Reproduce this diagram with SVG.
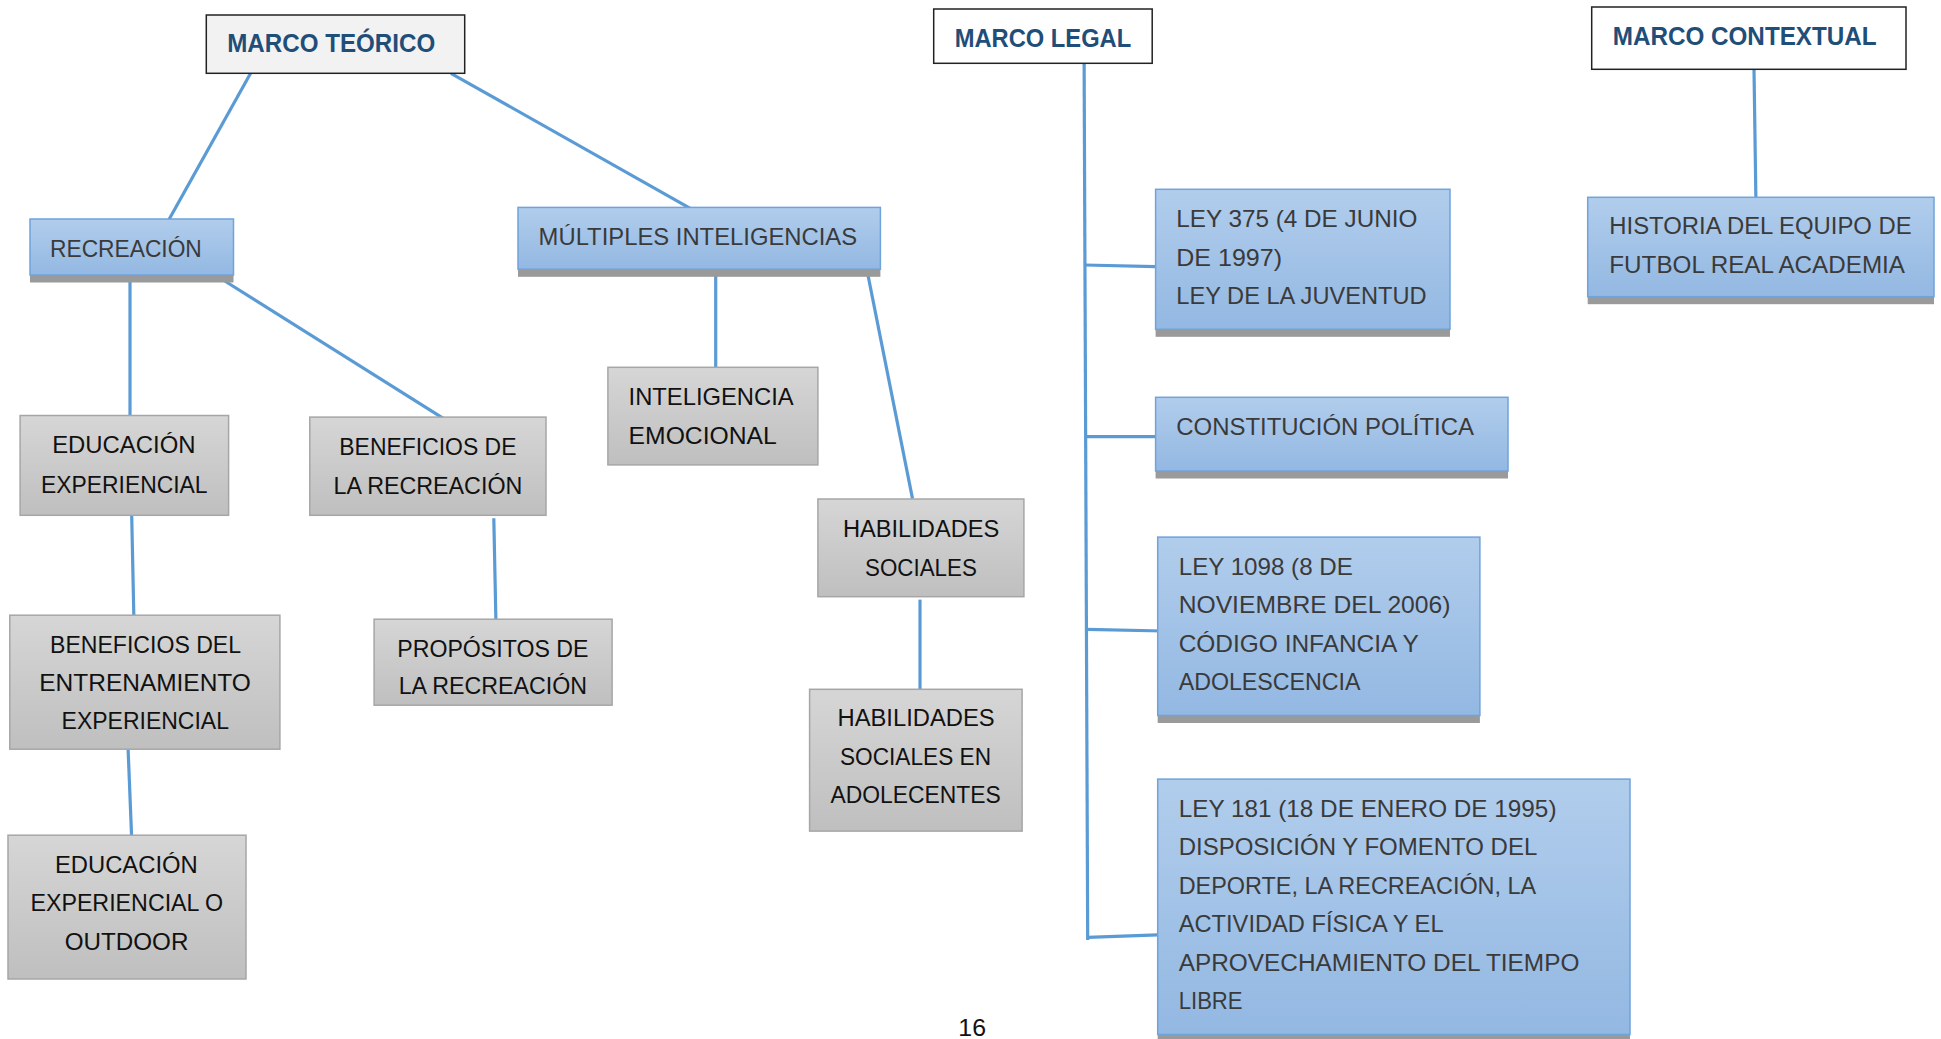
<svg xmlns="http://www.w3.org/2000/svg" width="1941" height="1039" viewBox="0 0 1941 1039">
<style>
.hdr{fill:#f2f2f2;stroke:#222;stroke-width:1.5}
.hdrw{fill:#ffffff;stroke:#222;stroke-width:1.5}
.blue{fill:url(#gb);stroke:#6fa3dc;stroke-width:1.5}
.shadow{fill:#9a9a9a}
.gray{fill:url(#gg);stroke:#a6a6a6;stroke-width:1.5}
.ht{font-family:"Liberation Sans",Arial,sans-serif;font-weight:bold;font-size:25px;fill:#1f4e79}
.bt{font-family:"Liberation Sans",Arial,sans-serif;font-size:24.5px;fill:#3a3a3a}
.gt{font-family:"Liberation Sans",Arial,sans-serif;font-size:24.5px;fill:#111}
.pg{font-family:"Liberation Sans",Arial,sans-serif;font-size:23px;fill:#111}
.conn line{stroke:#5b9bd5;stroke-width:3.2;stroke-linecap:butt}
</style>
<defs>
<linearGradient id="gb" x1="0" y1="0" x2="0" y2="1"><stop offset="0" stop-color="#b1cdec"/><stop offset="1" stop-color="#93b8e2"/></linearGradient>
<linearGradient id="gg" x1="0" y1="0" x2="0" y2="1"><stop offset="0" stop-color="#d6d6d6"/><stop offset="1" stop-color="#bfbfbf"/></linearGradient>
</defs>
<rect width="1941" height="1039" fill="#ffffff"/>

<g id="connectors" class="conn">
<line x1="251.3" y1="72" x2="168.3" y2="220.7"/>
<line x1="450.9" y1="73.3" x2="692" y2="209.3"/>
<line x1="130" y1="275" x2="130" y2="420.4"/>
<line x1="223.2" y1="280" x2="443.3" y2="418.3"/>
<line x1="131.7" y1="515.3" x2="133.9" y2="618.8"/>
<line x1="128.1" y1="749.2" x2="131.7" y2="838.9"/>
<line x1="493.8" y1="518.2" x2="496" y2="625"/>
<line x1="715.7" y1="273.4" x2="715.7" y2="376.5"/>
<line x1="867.9" y1="274.7" x2="912.5" y2="498.6"/>
<line x1="920" y1="599.6" x2="920" y2="692.6"/>
<line x1="1084.1" y1="58.3" x2="1087.7" y2="940"/>
<line x1="1084.6" y1="265" x2="1155.6" y2="266.7"/>
<line x1="1085.2" y1="436.7" x2="1157.2" y2="436.7"/>
<line x1="1086.3" y1="629.3" x2="1163.4" y2="631"/>
<line x1="1087.7" y1="937.3" x2="1157.7" y2="934.9"/>
<line x1="1754" y1="69" x2="1756" y2="206.7"/>
</g>

<g id="marco-teorico">
<rect class="hdr" x="206.3" y="15" width="258.4" height="58.3"/>
<text class="ht" x="227.2" y="52.3" textLength="208" lengthAdjust="spacingAndGlyphs">MARCO TEÓRICO</text>
</g>
<g id="marco-legal">
<rect class="hdrw" x="933.7" y="9" width="218.5" height="54.3"/>
<text class="ht" x="954.7" y="46.7" textLength="176.5" lengthAdjust="spacingAndGlyphs">MARCO LEGAL</text>
</g>
<g id="marco-contextual">
<rect class="hdrw" x="1591.7" y="7" width="314.3" height="62.3"/>
<text class="ht" x="1612.7" y="45" textLength="264" lengthAdjust="spacingAndGlyphs">MARCO CONTEXTUAL</text>
</g>

<g id="recreacion">
<rect class="shadow" x="30" y="226.5" width="203.5" height="56"/>
<rect class="blue" x="30" y="219" width="203.5" height="56"/>
<text class="bt" x="50" y="257.3" textLength="151.8" lengthAdjust="spacingAndGlyphs">RECREACIÓN</text>
</g>
<g id="multiples-inteligencias">
<rect class="shadow" x="518" y="215" width="362.4" height="61.8"/>
<rect class="blue" x="518" y="207.4" width="362.4" height="61.8"/>
<text class="bt" x="538.6" y="245.2" textLength="318.5" lengthAdjust="spacingAndGlyphs">MÚLTIPLES INTELIGENCIAS</text>
</g>

<g id="educacion-experiencial">
<rect class="gray" x="20.1" y="415.5" width="208.5" height="99.8"/>
<text class="gt" x="52.2" y="453" textLength="143.3" lengthAdjust="spacingAndGlyphs">EDUCACIÓN</text>
<text class="gt" x="41.1" y="492.5" textLength="166.5" lengthAdjust="spacingAndGlyphs">EXPERIENCIAL</text>
</g>
<g id="beneficios-recreacion">
<rect class="gray" x="309.8" y="417.1" width="236.2" height="98.2"/>
<text class="gt" x="339.3" y="455" textLength="177.2" lengthAdjust="spacingAndGlyphs">BENEFICIOS DE</text>
<text class="gt" x="333.5" y="493.7" textLength="188.8" lengthAdjust="spacingAndGlyphs">LA RECREACIÓN</text>
</g>
<g id="beneficios-entrenamiento">
<rect class="gray" x="9.8" y="615.2" width="270.1" height="134"/>
<text class="gt" x="50" y="652.6" textLength="191.1" lengthAdjust="spacingAndGlyphs">BENEFICIOS DEL</text>
<text class="gt" x="39.3" y="691.4" textLength="211.6" lengthAdjust="spacingAndGlyphs">ENTRENAMIENTO</text>
<text class="gt" x="61.6" y="729.3" textLength="167.4" lengthAdjust="spacingAndGlyphs">EXPERIENCIAL</text>
</g>
<g id="educacion-outdoor">
<rect class="gray" x="8" y="835.2" width="238" height="143.8"/>
<text class="gt" x="54.9" y="872.7" textLength="142.9" lengthAdjust="spacingAndGlyphs">EDUCACIÓN</text>
<text class="gt" x="30.4" y="911.4" textLength="192.8" lengthAdjust="spacingAndGlyphs">EXPERIENCIAL O</text>
<text class="gt" x="64.7" y="950.1" textLength="123.7" lengthAdjust="spacingAndGlyphs">OUTDOOR</text>
</g>
<g id="propositos-recreacion">
<rect class="gray" x="374.1" y="619.2" width="238" height="86"/>
<text class="gt" x="397.3" y="656.7" textLength="191.1" lengthAdjust="spacingAndGlyphs">PROPÓSITOS DE</text>
<text class="gt" x="398.7" y="694.2" textLength="188.3" lengthAdjust="spacingAndGlyphs">LA RECREACIÓN</text>
</g>
<g id="inteligencia-emocional">
<rect class="gray" x="607.9" y="367.3" width="210" height="97.6"/>
<text class="gt" x="628.6" y="405.2" textLength="165" lengthAdjust="spacingAndGlyphs">INTELIGENCIA</text>
<text class="gt" x="628.6" y="443.9" textLength="148.2" lengthAdjust="spacingAndGlyphs">EMOCIONAL</text>
</g>
<g id="habilidades-sociales">
<rect class="gray" x="817.9" y="499" width="206" height="97.7"/>
<text class="gt" x="842.9" y="536.9" textLength="156.4" lengthAdjust="spacingAndGlyphs">HABILIDADES</text>
<text class="gt" x="865" y="575.6" textLength="111.8" lengthAdjust="spacingAndGlyphs">SOCIALES</text>
</g>
<g id="habilidades-adolescentes">
<rect class="gray" x="809.6" y="689.3" width="212.5" height="141.8"/>
<text class="gt" x="837.5" y="726.3" textLength="157.1" lengthAdjust="spacingAndGlyphs">HABILIDADES</text>
<text class="gt" x="840" y="765" textLength="151" lengthAdjust="spacingAndGlyphs">SOCIALES EN</text>
<text class="gt" x="830.4" y="802.9" textLength="170.3" lengthAdjust="spacingAndGlyphs">ADOLECENTES</text>
</g>

<g id="ley-375">
<rect class="shadow" x="1155.6" y="196.8" width="294.4" height="140"/>
<rect class="blue" x="1155.6" y="189.3" width="294.4" height="140"/>
<text class="bt" x="1176.3" y="227.3" textLength="241.1" lengthAdjust="spacingAndGlyphs">LEY 375 (4 DE JUNIO</text>
<text class="bt" x="1176.3" y="265.7" textLength="105.7" lengthAdjust="spacingAndGlyphs">DE 1997)</text>
<text class="bt" x="1176.3" y="304" textLength="250.3" lengthAdjust="spacingAndGlyphs">LEY DE LA JUVENTUD</text>
</g>
<g id="constitucion">
<rect class="shadow" x="1155.6" y="404.8" width="352.4" height="73.7"/>
<rect class="blue" x="1155.6" y="397.3" width="352.4" height="73.7"/>
<text class="bt" x="1176.3" y="435" textLength="297.7" lengthAdjust="spacingAndGlyphs">CONSTITUCIÓN POLÍTICA</text>
</g>
<g id="ley-1098">
<rect class="shadow" x="1157.7" y="544.6" width="322.2" height="178.4"/>
<rect class="blue" x="1157.7" y="537.1" width="322.2" height="178.4"/>
<text class="bt" x="1178.7" y="574.9" textLength="174.2" lengthAdjust="spacingAndGlyphs">LEY 1098 (8 DE</text>
<text class="bt" x="1178.7" y="613.4" textLength="271.8" lengthAdjust="spacingAndGlyphs">NOVIEMBRE DEL 2006)</text>
<text class="bt" x="1178.7" y="651.9" textLength="240" lengthAdjust="spacingAndGlyphs">CÓDIGO INFANCIA Y</text>
<text class="bt" x="1178.7" y="690.1" textLength="181.8" lengthAdjust="spacingAndGlyphs">ADOLESCENCIA</text>
</g>
<g id="ley-181">
<rect class="shadow" x="1157.7" y="786.6" width="472.3" height="255.4"/>
<rect class="blue" x="1157.7" y="779.1" width="472.3" height="255.4"/>
<text class="bt" x="1178.7" y="817" textLength="377.8" lengthAdjust="spacingAndGlyphs">LEY 181 (18 DE ENERO DE 1995)</text>
<text class="bt" x="1178.7" y="855.1" textLength="358.6" lengthAdjust="spacingAndGlyphs">DISPOSICIÓN Y FOMENTO DEL</text>
<text class="bt" x="1178.7" y="893.6" textLength="357.5" lengthAdjust="spacingAndGlyphs">DEPORTE, LA RECREACIÓN, LA</text>
<text class="bt" x="1178.7" y="932.1" textLength="264.9" lengthAdjust="spacingAndGlyphs">ACTIVIDAD FÍSICA Y EL</text>
<text class="bt" x="1178.7" y="971" textLength="400.7" lengthAdjust="spacingAndGlyphs">APROVECHAMIENTO DEL TIEMPO</text>
<text class="bt" x="1178.7" y="1008.8" textLength="63.9" lengthAdjust="spacingAndGlyphs">LIBRE</text>
</g>
<g id="historia">
<rect class="shadow" x="1587.7" y="204.8" width="346.3" height="99.4"/>
<rect class="blue" x="1587.7" y="197.3" width="346.3" height="99.4"/>
<text class="bt" x="1609.3" y="234.3" textLength="302.4" lengthAdjust="spacingAndGlyphs">HISTORIA DEL EQUIPO DE</text>
<text class="bt" x="1609.3" y="273.3" textLength="295.7" lengthAdjust="spacingAndGlyphs">FUTBOL REAL ACADEMIA</text>
</g>

<text class="pg" x="958.3" y="1036" textLength="27.7" lengthAdjust="spacingAndGlyphs">16</text>
</svg>
